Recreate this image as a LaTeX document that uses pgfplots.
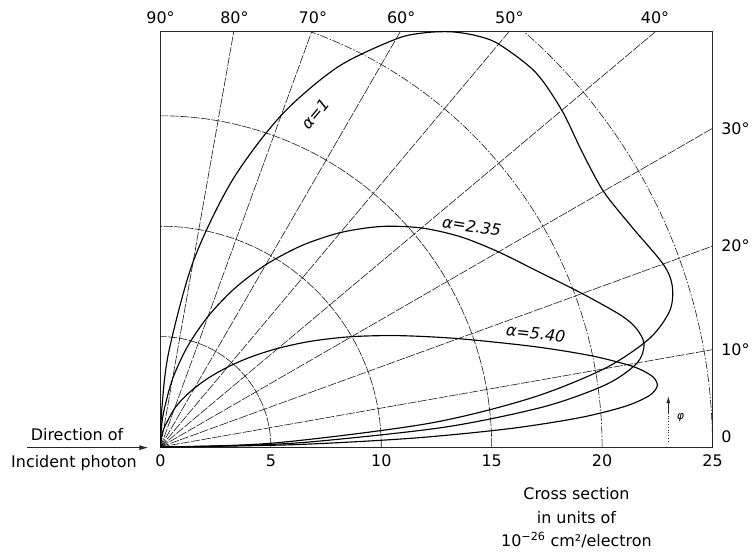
\documentclass[border=0pt]{standalone}
\usepackage{fontspec}
\setmainfont{DejaVu Sans}
\usepackage{pgfplots}
\pgfplotsset{compat=1.18}
\usetikzlibrary{arrows.meta}
\newcommand{\lblfont}{\fontsize{16}{23.5}\selectfont}
\tikzset{
  gridl/.style={line width=0.6pt, black!90, dash pattern=on 9pt off 1.5pt},
  gridd/.style={line width=0.6pt, black!90, dash pattern=on 8pt off 1.8pt on 1.5pt off 1.8pt},
  curve/.style={line width=1.15pt, black, smooth, tension=0.5},
}
\begin{document}
\lblfont
\begin{tikzpicture}
\useasboundingbox (-160.5bp,-110bp) rectangle (595.5bp,447bp);
\begin{axis}[
  anchor=south west, at={(0,0)},
  x=22.08bp, y=22.08bp,
  xmin=0, xmax=25, ymin=0, ymax=18.8,
  clip mode=individual,
  axis line style={line width=1pt, black!85},
  xtick={0,5,10,15,20,25},
  xticklabels={0,5,10,15,20,25},
  ytick=\empty,
  major tick length=0pt,
  every tick label/.append style={font=\lblfont},
  xticklabel style={yshift=-2pt},
]
% radial lines
\draw[gridl] (axis cs:0,0) -- (axis cs:25,4.408);
\draw[gridl] (axis cs:0,0) -- (axis cs:25,9.099);
\draw[gridl] (axis cs:0,0) -- (axis cs:25,14.434);
\draw[gridl] (axis cs:0,0) -- (axis cs:22.405,18.8);
\draw[gridl] (axis cs:0,0) -- (axis cs:15.775,18.8);
\draw[gridl] (axis cs:0,0) -- (axis cs:10.854,18.8);
\draw[gridl] (axis cs:0,0) -- (axis cs:6.843,18.8);
\draw[gridl] (axis cs:0,0) -- (axis cs:3.315,18.8);
% arcs
\draw[gridl] (axis cs:5,0) arc[start angle=0, end angle=90, radius=110.4bp];
\draw[gridl] (axis cs:10,0) arc[start angle=0, end angle=90, radius=220.8bp];
\draw[gridl] (axis cs:15,0) arc[start angle=0, end angle=90, radius=331.2bp];
\draw[gridd] (axis cs:20,0) arc[start angle=0, end angle=70.05, radius=441.6bp];
\draw[gridd] (axis cs:25,0) arc[start angle=0, end angle=48.77, radius=552bp];

% alpha = 1
\addplot[curve] coordinates {
(0,0) (5.104,0.178) (12.080,1.057) (16.740,2.204) (20.093,3.543) (22.138,4.908)
(23.070,6.182) (23.176,7.308) (22.764,8.285) (21.354,9.958) (20.061,11.582)
(19.092,13.368) (18.175,15.251) (16.978,16.978) (15.314,18.250) (14.295,18.630)
(13.167,18.804) (11.950,18.758) (10.669,18.478) (8.024,17.207) (5.469,15.025)
(3.224,12.033) (1.481,8.399) (0.377,4.315) (0.061,1.739) (0,0)};
% alpha = 2.35
\addplot[curve] coordinates {
(0,0) (3.50,0.061) (6.903,0.241) (12.894,0.902) (17.378,1.827) (20.206,2.840)
(21.586,3.806) (21.902,4.655) (21.548,5.372) (20.835,5.975) (19.095,6.950)
(17.074,7.962) (15.306,8.837) (13.595,9.520) (11.822,9.920) (9.987,9.987)
(8.148,9.711) (6.384,9.117) (4.765,8.253) (3.343,7.169) (2.153,5.914)
(1.215,4.535) (0.541,3.068) (0.135,1.547) (0.022,0.62) (0,0)};
% alpha = 5.40
\addplot[curve] coordinates {
(0,0) (5.983,0.104) (11.381,0.397) (15.773,0.827) (18.979,1.327) (21.040,1.841)
(22.138,2.327) (22.499,2.763) (22.341,3.140) (21.842,3.460) (21.141,3.728)
(19.474,4.139) (16.957,4.544) (13.484,4.908) (10.815,5.043) (8.655,4.997)
(6.848,4.795) (5.330,4.472) (4.068,4.068) (3.035,3.617) (2.203,3.146)
(1.541,2.669) (1.026,2.200) (0.633,1.740) (0.312,1.166) (0.144,0.818)
(0.037,0.421) (0,0)};

% curve labels
\node[rotate=50, fill=white, inner sep=0.5pt] at (axis cs:7.0,15.1) {\textit{α=1}};
\node[rotate=-9, fill=white, inner sep=0.5pt] at (axis cs:14.1,10.0) {\textit{α=2.35}};
\node[rotate=-6, fill=white, inner sep=0.5pt] at (axis cs:17.0,5.15) {\textit{α=5.40}};

% angle labels, top
\node at (axis cs:0,19.45) {90°};
\node at (axis cs:3.35,19.45) {80°};
\node at (axis cs:6.9,19.45) {70°};
\node at (axis cs:10.9,19.45) {60°};
\node at (axis cs:15.8,19.45) {50°};
\node at (axis cs:22.4,19.45) {40°};
% angle labels, right
\node[anchor=west] at (axis cs:25.15,14.43) {30°};
\node[anchor=west] at (axis cs:25.15,9.10) {20°};
\node[anchor=west] at (axis cs:25.15,4.41) {10°};
\node[anchor=west] at (axis cs:25.15,0.45) {0};

% phi arrow
\draw[line width=0.8pt, dotted, black!85] (axis cs:23.0,0.25) -- (axis cs:23.0,1.6);
\draw[line width=0.8pt, -{Latex[length=7pt,width=4pt]}, black!85] (axis cs:23.0,1.5) -- (axis cs:23.0,2.3);
\node[font=\fontsize{11}{12}\selectfont] at (axis cs:23.55,1.35) {\textit{φ}};

% incident photon
\draw[line width=0.9pt, -{Latex[length=9pt,width=5pt]}, black!85] (axis cs:-6.05,-0.03) -- (axis cs:-0.55,-0.03);
\node at (axis cs:-3.78,0.55) {Direction of};
\node at (axis cs:-3.92,-0.75) {Incident photon};

% axis title
\node[align=center, anchor=north] at (axis cs:18.84,-1.6)
  {Cross section\\in units of\\10\textsuperscript{−26} cm²/electron};
\end{axis}
\end{tikzpicture}
\end{document}
